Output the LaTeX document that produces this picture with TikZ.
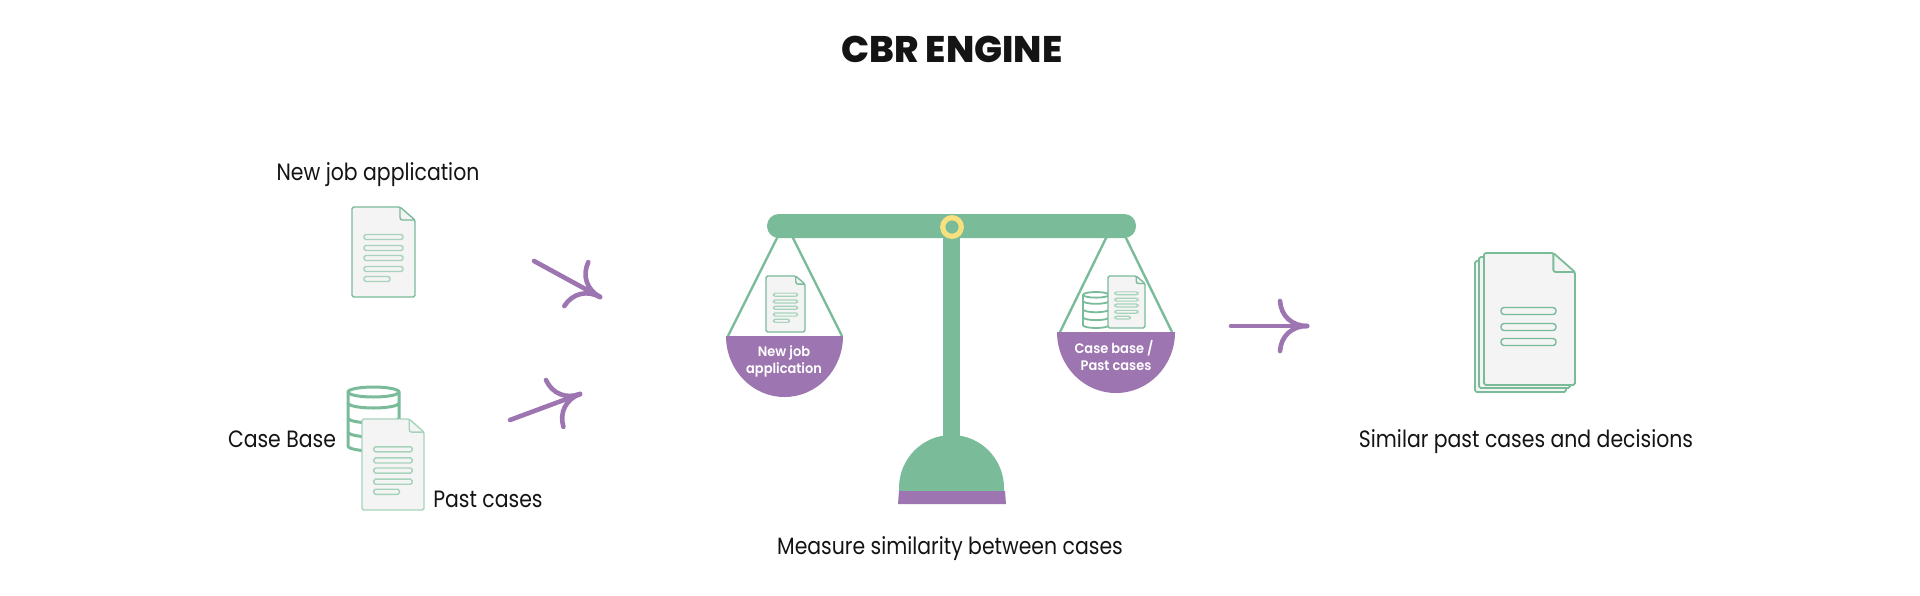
\documentclass[tikz,border=0pt]{standalone}
\usepackage{fontspec}
\setmainfont{Poppins}
\newfontfamily\labelfont[FakeStretch=0.865]{Poppins}
\newfontfamily\semifont[FakeStretch=0.94]{Poppins SemiBold}
\newfontfamily\titlefont[FakeStretch=1.0]{Poppins ExtraBold}
\definecolor{sgreen}{HTML}{7ABB9A}
\definecolor{lgreen}{HTML}{A6D3BB}
\definecolor{spurple}{HTML}{9D75B0}
\definecolor{syellow}{HTML}{F6E17E}
\definecolor{dfill}{HTML}{F4F4F4}
\definecolor{ink}{HTML}{141414}
\tikzset{
  lbl/.style={anchor=base,inner sep=0pt,text=ink,font=\labelfont\fontsize{11.8}{14}\selectfont},
  panlbl/.style={anchor=base,inner sep=0pt,text=white,font=\semifont\fontsize{6.9}{8}\selectfont},
  arrowline/.style={draw=spurple,line width=2.3pt,line cap=round},
  scalecord/.style={draw=sgreen,line width=1.2pt},
}
% \docbody{x}{y}{w}{h}{line width}{colour}
\newcommand{\docbody}[6]{%
  \begin{scope}[shift={(#1,#2)},xscale=#3/63,yscale=#4/90]
    \draw[draw=#6,fill=dfill,line width=#5,rounded corners=0.8pt,line join=round]
      (0,0) -- (48,0) -- (63,13) -- (63,90) -- (0,90) -- cycle;
    \draw[draw=#6,line width=#5,rounded corners=1.2pt,line join=round]
      (48,0) -- (48,13) -- (63,13);
  \end{scope}}
% \docbars{x}{y}{w}{h}{line width}{colour}: five text bars
\newcommand{\docbars}[6]{%
  \begin{scope}[shift={(#1,#2)},xscale=#3/63,yscale=#4/90]
    \foreach \by/\bx in {30/51,41/51,51/51,62/51,72/38}
      \draw[draw=#6,line width=#5,rounded corners=0.8pt]
        (12,\by-2.5) rectangle (\bx,\by+2.5);
  \end{scope}}
% \dbicon{x}{y}{w}{h}{line width}
\newcommand{\dbicon}[5]{%
  \begin{scope}[shift={(#1,#2)},xscale=#3/51,yscale=#4/64]
    \draw[draw=sgreen,fill=white,line width=#5]
      (0,5) -- (0,59) arc[start angle=180,end angle=0,x radius=25.5,y radius=5]
      -- (51,5) arc[start angle=0,end angle=-180,x radius=25.5,y radius=5] -- cycle;
    \draw[draw=sgreen,line width=#5]
      (0,5) arc[start angle=180,end angle=0,x radius=25.5,y radius=5];
    \foreach \by in {16,31,45}
      \draw[draw=sgreen,line width=#5]
        (0,\by) arc[start angle=180,end angle=0,x radius=25.5,y radius=5];
  \end{scope}}
% \barbs{tip coordinate}{rotation}: the curved head of an arrow
\newcommand{\barbs}[2]{%
  \begin{scope}[shift={(#1)},rotate=#2]
    \draw[arrowline] (-27,-25) .. controls (-26,-10) and (-15,0) .. (0,0);
    \draw[arrowline] (-27,25) .. controls (-26,10) and (-15,0) .. (0,0);
  \end{scope}}
\begin{document}
\begin{tikzpicture}[x=0.5pt,y=-0.5pt]
\useasboundingbox (0,0) rectangle (1920,595);
\fill[white] (0,0) rectangle (1920,595);

% title
\node[anchor=base,inner sep=0pt,text=ink,font=\titlefont\fontsize{18.5}{20}\selectfont] (title) at (952,62) {CBR ENGINE};

% left icons
\docbody{352}{207}{63}{90}{0.7pt}{sgreen}
\docbars{352}{207}{63}{90}{0.7pt}{lgreen}
\dbicon{348}{387}{51}{64}{1.5pt}
\docbody{362}{419}{62}{91}{0.7pt}{lgreen}
\docbars{362}{419}{62}{91}{0.7pt}{lgreen}

\node[lbl] (newjob) at (378,180) {New job application};
\node[lbl] (casebase) at (282,447) {Case Base};
\node[lbl] (pastcases) at (488,507) {Past cases};

% arrows
\coordinate (a1s) at (534,261); \coordinate (a1t) at (600,297);
\coordinate (a2s) at (510,420); \coordinate (a2t) at (580,394);
\coordinate (a3s) at (1231,326); \coordinate (a3t) at (1307,326);
\draw[arrowline] (a1s) -- (a1t); \barbs{a1t}{-28.6}
\draw[arrowline] (a2s) -- (a2t); \barbs{a2t}{20.4}
\draw[arrowline] (a3s) -- (a3t); \barbs{a3t}{0}

% scale: post and base
\fill[sgreen] (943,230) rectangle (960,440);
\fill[sgreen] (899,491) -- (899,488) arc[start angle=180,end angle=360,x radius=52.5,y radius=53] -- (1004,491) -- cycle;
\fill[spurple] (899,491) -- (1005,491) -- (1006,504) -- (898,504) -- cycle;

% cords
\draw[scalecord] (778,236) -- (728,336);
\draw[scalecord] (792,236) -- (842,336);
\draw[scalecord] (1107,236) -- (1060,332);
\draw[scalecord] (1125,236) -- (1172,332);

% beam and pivot
\fill[sgreen,rounded corners=5.9pt] (767,214) rectangle (1136,238);
\draw[draw=syellow,line width=2.6pt] (952,227) circle[radius=9.3];

% pans
\fill[spurple] (726,336) arc[start angle=180,end angle=0,x radius=58.5,y radius=61] -- cycle;
\fill[spurple] (1057,332) arc[start angle=180,end angle=0,x radius=59,y radius=61] -- cycle;

% pan contents
\docbody{766}{276}{39}{56}{0.7pt}{sgreen}
\docbars{766}{276}{39}{56}{0.6pt}{lgreen}
\dbicon{1083}{292}{26}{36}{0.9pt}
\docbody{1108}{276}{37}{52}{0.7pt}{sgreen}
\docbars{1108}{276}{37}{52}{0.6pt}{lgreen}

\node[panlbl] (p1a) at (784,356) {New job};
\node[panlbl] (p1b) at (784,373) {application};
\node[panlbl] (p2a) at (1114,353) {Case base /};
\node[panlbl] (p2b) at (1116,370) {Past cases};

\node[lbl] (measure) at (950,554) {Measure similarity between cases};

% result stack
\docbody{1475}{261}{91}{131}{0.9pt}{sgreen}
\docbody{1479}{257}{91}{131}{0.9pt}{sgreen}
\docbody{1484}{253}{91}{132}{0.9pt}{sgreen}
\foreach \by in {311,327,342}
  \draw[draw=sgreen,line width=0.7pt,rounded corners=1.5pt] (1501,\by-3.5) rectangle (1556,\by+3.5);
\node[lbl] (similar) at (1526,447) {Similar past cases and decisions};
\end{tikzpicture}
\end{document}
